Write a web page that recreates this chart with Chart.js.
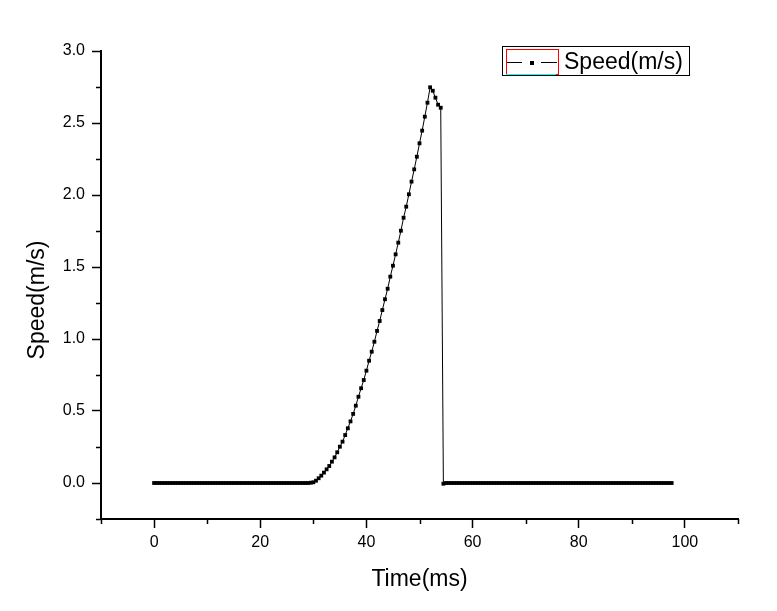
<!DOCTYPE html>
<html>
<head>
<meta charset="utf-8">
<script src="https://cdn.jsdelivr.net/npm/chart.js@4"></script>
<style>
  html, body { margin: 0; padding: 0; background: #ffffff; }
  #wrap { width: 777px; height: 611px; }
</style>
</head>
<body>
<div id="wrap"><canvas id="c" width="777" height="611"></canvas></div>
<script>
// ---- data ----
const timeMs = [
  0,0.5,1,1.5,2,2.5,3,3.5,4,4.5,5,5.5,6,6.5,7,7.5,8,8.5,9,9.5,
  10,10.5,11,11.5,12,12.5,13,13.5,14,14.5,15,15.5,16,16.5,17,17.5,18,18.5,19,19.5,
  20,20.5,21,21.5,22,22.5,23,23.5,24,24.5,25,25.5,26,26.5,27,27.5,28,28.5,29,29.5,
  30,30.5,31,31.5,32,32.5,33,33.5,34,34.5,35,35.5,36,36.5,37,37.5,38,38.5,39,39.5,
  40,40.5,41,41.5,42,42.5,43,43.5,44,44.5,45,45.5,46,46.5,47,47.5,48,48.5,49,49.5,
  50,50.5,51,51.5,52,52.5,53,53.5,54,54.5,55,55.5,56,56.5,57,57.5,58,58.5,59,59.5,
  60,60.5,61,61.5,62,62.5,63,63.5,64,64.5,65,65.5,66,66.5,67,67.5,68,68.5,69,69.5,
  70,70.5,71,71.5,72,72.5,73,73.5,74,74.5,75,75.5,76,76.5,77,77.5,78,78.5,79,79.5,
  80,80.5,81,81.5,82,82.5,83,83.5,84,84.5,85,85.5,86,86.5,87,87.5,88,88.5,89,89.5,
  90,90.5,91,91.5,92,92.5,93,93.5,94,94.5,95,95.5,96,96.5,97,97.5
];
const speed = [
  // t = 0 .. 19.5
  0,0,0,0,0,0,0,0,0,0,0,0,0,0,0,0,0,0,0,0,
  0,0,0,0,0,0,0,0,0,0,0,0,0,0,0,0,0,0,0,0,
  // t = 20 .. 29.5
  0,0,0,0,0,0,0,0,0,0,0,0,0,0,0,0,0,0,0,0.002,
  // t = 30 .. 39.5
  0.005,0.016,0.033,0.051,0.072,0.095,0.118,0.148,0.178,0.213,
  0.252,0.287,0.333,0.380,0.428,0.480,0.537,0.599,0.658,0.715,
  // t = 40 .. 49.5
  0.780,0.849,0.912,0.981,1.056,1.125,1.201,1.276,1.349,1.433,
  1.509,1.588,1.669,1.752,1.842,1.919,2.005,2.093,2.178,2.266,
  // t = 50 .. 59.5
  2.359,2.447,2.544,2.641,2.748,2.724,2.676,2.627,2.606,-0.005,
  0,0,0,0,0,0,0,0,0,0,
  // t = 60 .. 79.5
  0,0,0,0,0,0,0,0,0,0,0,0,0,0,0,0,0,0,0,0,
  0,0,0,0,0,0,0,0,0,0,0,0,0,0,0,0,0,0,0,0,
  // t = 80 .. 97.5
  0,0,0,0,0,0,0,0,0,0,0,0,0,0,0,0,0,0,0,0,
  0,0,0,0,0,0,0,0,0,0,0,0,0,0,0,0
];
const xTickValues = [0, 20, 40, 60, 80, 100];
const xMinorValues = [-10, 10, 30, 50, 70, 90, 110];
const yTickValues = [0, 0.5, 1.0, 1.5, 2.0, 2.5, 3.0];
const yMinorValues = [-0.25, 0.25, 0.75, 1.25, 1.75, 2.25, 2.75];
const xTitle = 'Time(ms)';
const yTitle = 'Speed(m/s)';
const seriesName = 'Speed(m/s)';

const FONT = "'Liberation Sans', Arial, sans-serif";

const points = timeMs.map((t, i) => ({ x: t, y: speed[i] }));

const decorPlugin = {
  id: 'decor',
  afterDraw(chart) {
    const ctx = chart.ctx;
    const xs = chart.scales.x, ys = chart.scales.y;
    const area = chart.chartArea;
    ctx.save();
    ctx.strokeStyle = '#000';
    ctx.lineWidth = 1.5;
    // minor ticks
    yMinorValues.forEach(v => {
      const py = Math.round(ys.getPixelForValue(v)) + 0.5;
      ctx.beginPath(); ctx.moveTo(area.left - 5, py); ctx.lineTo(area.left, py); ctx.stroke();
    });
    xMinorValues.forEach(v => {
      const px = Math.round(xs.getPixelForValue(v)) + 0.5;
      ctx.beginPath(); ctx.moveTo(px, area.bottom); ctx.lineTo(px, area.bottom + 5); ctx.stroke();
    });
    // axis titles
    ctx.fillStyle = '#000';
    ctx.font = '23px ' + FONT;
    ctx.textAlign = 'center';
    ctx.textBaseline = 'alphabetic';
    ctx.fillText(xTitle, (area.left + area.right) / 2, 586);
    ctx.save();
    ctx.translate(44, 300);
    ctx.rotate(-Math.PI / 2);
    ctx.fillText(yTitle, 0, 0);
    ctx.restore();
    // legend
    ctx.lineWidth = 1;
    ctx.strokeStyle = '#000';
    ctx.strokeRect(502.5, 46.5, 187, 29);
    ctx.strokeStyle = '#ff0000';
    ctx.strokeRect(506.5, 49.5, 52, 25);
    ctx.strokeStyle = '#00ffff';
    ctx.beginPath(); ctx.moveTo(506, 74.5); ctx.lineTo(556, 74.5); ctx.stroke();
    ctx.strokeStyle = '#000';
    ctx.beginPath(); ctx.moveTo(507, 62.5); ctx.lineTo(522, 62.5); ctx.stroke();
    ctx.beginPath(); ctx.moveTo(541, 62.5); ctx.lineTo(557, 62.5); ctx.stroke();
    ctx.fillRect(530, 61, 4, 4);
    ctx.textAlign = 'left';
    ctx.fillText(seriesName, 564, 69);
    ctx.restore();
  }
};

new Chart(document.getElementById('c'), {
  type: 'line',
  data: {
    datasets: [{
      label: seriesName,
      data: points,
      borderColor: '#000',
      borderWidth: 1,
      pointStyle: 'rect',
      pointRadius: 2.7,
      pointBorderWidth: 0,
      pointBackgroundColor: '#000',
      tension: 0,
      fill: false
    }]
  },
  options: {
    responsive: false,
    animation: false,
    devicePixelRatio: 1,
    layout: { padding: { left: 0, top: 51, right: 39, bottom: 0 } },
    plugins: { legend: { display: false }, tooltip: { enabled: false } },
    scales: {
      x: {
        type: 'linear',
        min: -10, max: 110,
        afterBuildTicks: s => { s.ticks = xTickValues.map(v => ({ value: v })); },
        afterFit: s => { s.height = 92; },
        ticks: { color: '#000', font: { family: FONT, size: 16 }, padding: 5, maxRotation: 0, autoSkip: false,
                 callback: v => String(v) },
        grid: { drawOnChartArea: false, drawTicks: true, tickLength: 9, tickWidth: 1.5, tickColor: '#000' },
        border: { display: true, color: '#000', width: 2 }
      },
      y: {
        type: 'linear',
        min: -0.25, max: 3.0,
        afterBuildTicks: s => { s.ticks = yTickValues.map(v => ({ value: v })); },
        afterFit: s => { s.width = 101; },
        ticks: { color: '#000', font: { family: FONT, size: 16 }, padding: 7, autoSkip: false,
                 callback: v => Number(v).toFixed(1) },
        grid: { drawOnChartArea: false, drawTicks: true, tickLength: 9, tickWidth: 1.5, tickColor: '#000' },
        border: { display: true, color: '#000', width: 2 }
      }
    }
  },
  plugins: [decorPlugin]
});
</script>
</body>
</html>
